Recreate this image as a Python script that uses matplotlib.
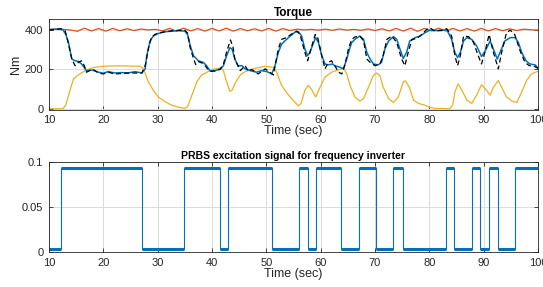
import numpy as np
import matplotlib
matplotlib.use("Agg")
import matplotlib.pyplot as plt

plt.rcParams['font.family'] = ['Liberation Sans', 'DejaVu Sans']

"DATA"
# measured torque (blue)
t_meas = [10, 11, 12, 12.6, 13.1, 13.6, 14.2, 14.8, 15.4, 16.0, 16.9, 17.9, 19.1, 20.0, 20.9,
          22.1, 23.4, 24.6, 25.8, 27.1, 27.7, 28.0, 28.6, 29.2, 30.1, 31.4, 32.6, 33.8, 35.0,
          35.5, 36.0, 36.6, 37.5, 38.4, 39.0, 39.6, 40.6, 41.5, 42.1, 42.7, 43.3, 43.7, 44.2,
          44.8, 45.5, 46.1, 47.0, 48.2, 49.1, 50.1, 51.0, 51.6, 52.2, 52.8, 53.4, 54.4, 55.3,
          55.9, 56.5, 57.1, 57.6, 58.0, 58.7, 59.1, 59.6, 60.2, 60.8, 61.4, 62.2, 62.6, 63.6,
          64.2, 64.8, 65.4, 65.7, 66.3, 67.2, 67.9, 68.5, 69.1, 69.7, 70.6, 71.2, 71.8, 72.5,
          73.4, 74.0, 74.6, 75.2, 75.8, 76.4, 77.4, 78.3, 79.2, 80.1, 81.0, 82.3, 83.2, 84.1,
          84.7, 85.2, 85.7, 86.3, 86.9, 87.8, 88.7, 89.6, 90.3, 91.2, 91.8, 92.5, 93.0, 93.9,
          94.9, 95.8, 96.4, 97.0, 97.8, 98.5, 99.5, 100]
tq_meas = [402, 405, 406, 400, 378, 336, 253, 244, 241, 228, 194, 197, 186, 181, 189,
           182, 184, 182, 189, 182, 203, 270, 345, 370, 383, 392, 395, 397, 395,
           378, 320, 270, 244, 236, 219, 194, 194, 203, 219, 270, 311, 303, 253,
           219, 219, 203, 194, 186, 194, 189, 177, 219, 286, 328, 345, 370, 390,
           392, 370, 303, 270, 286, 336, 362, 336, 270, 228, 223, 228, 219, 211,
           203, 253, 311, 336, 353, 370, 353, 286, 253, 228, 223, 236, 303, 345,
           367, 353, 303, 256, 286, 345, 362, 370, 387, 400, 398, 398, 403, 353,
           286, 261, 286, 345, 362, 353, 320, 266, 295, 345, 303, 253, 286, 345,
           362, 362, 336, 286, 244, 228, 223, 206]

# reference torque (black dashed)
t_ref = [10, 12.3, 13.0, 13.6, 14.2, 14.8, 15.4, 16.0, 16.5, 16.9, 17.5, 18.2, 19.1, 20.0,
         20.9, 22.1, 24.6, 27.1, 27.7, 28.4, 28.9, 29.5, 30.1, 31.4, 33.0, 35.0, 35.5, 36.0,
         36.6, 37.0, 37.5, 38.4, 39.0, 39.6, 40.6, 41.5, 42.1, 42.7, 43.4, 43.9, 44.2, 45.2,
         46.1, 46.7, 47.3, 48.5, 49.8, 51.3, 52.2, 52.8, 53.7, 55.0, 55.6, 56.2, 57.1, 57.6,
         58.2, 59.0, 59.4, 60.2, 60.8, 61.4, 62.0, 62.6, 63.3, 63.9, 64.5, 65.1, 65.7, 66.3,
         67.2, 67.9, 68.5, 69.1, 70.0, 70.9, 71.5, 72.2, 73.1, 74.0, 74.9, 75.5, 76.1, 76.8,
         77.7, 78.6, 79.5, 80.1, 81.0, 82.3, 82.9, 83.2, 84.1, 84.7, 85.2, 85.7, 86.3, 87.2,
         88.1, 89.0, 89.6, 90.3, 91.0, 91.8, 92.7, 93.3, 94.2, 94.9, 95.7, 96.7, 97.6, 98.4,
         99.1, 100]
tq_ref = [400, 407, 395, 328, 253, 219, 236, 244, 219, 186, 194, 199, 182, 177,
          186, 177, 182, 182, 219, 320, 365, 378, 385, 392, 398, 400, 385, 310,
          255, 225, 240, 230, 210, 190, 192, 200, 225, 290, 350, 310, 253, 194,
          219, 190, 200, 177, 203, 172, 303, 353, 362, 387, 395, 378, 286, 244,
          303, 378, 370, 270, 203, 236, 244, 219, 186, 177, 228, 303, 353, 365,
          370, 345, 253, 236, 219, 228, 270, 353, 370, 337, 253, 219, 286, 353,
          357, 378, 403, 412, 395, 400, 407, 407, 370, 270, 219, 270, 370, 367,
          340, 270, 228, 295, 378, 286, 203, 286, 387, 400, 378, 295, 236, 219,
          219, 206]

# load torque (red), evenly spaced over 10..100 s
tq_load = [404, 405, 404, 401, 394, 410, 396, 408, 395, 409,
           397, 407, 398, 406, 401, 404, 396, 409, 395, 410,
           396, 408, 395, 409, 396, 410, 395, 408, 397, 407,
           396, 409, 395, 408, 398, 405, 401, 404, 400, 405,
           399, 406, 400, 404, 399, 406, 398, 407, 396, 409,
           395, 410, 394, 409, 396, 410, 395, 409, 396, 408,
           395, 409, 396, 408, 397, 407, 398, 405, 402, 400]

# torque difference (yellow)
t_diff = [10, 12.6, 13.1, 13.6, 14.5, 15.4, 16.9, 18.4, 20.0, 21.5, 24.0, 26.8, 27.4, 28.3,
          29.2, 30.1, 31.4, 32.6, 33.8, 35.0, 35.5, 36.3, 37.2, 38.1, 39.3, 40.6, 41.7, 42.1,
          42.7, 43.3, 43.7, 44.2, 45.2, 46.1, 47.9, 49.8, 51.3, 51.9, 52.8, 54.1, 55.3, 55.9,
          56.4, 57.1, 57.7, 58.3, 59.1, 59.9, 60.8, 62.0, 63.3, 64.2, 64.8, 65.4, 66.3, 67.2,
          67.9, 68.8, 69.7, 70.3, 70.9, 71.5, 72.5, 73.4, 74.3, 75.2, 75.6, 76.3, 77.1, 78.0,
          79.2, 80.1, 81.0, 83.8, 84.3, 84.7, 85.3, 86.0, 86.9, 87.8, 88.7, 89.6, 90.3, 91.2,
          91.8, 92.7, 93.3, 94.2, 95.2, 96.1, 97.0, 97.9, 98.8, 99.8, 100]
tq_diff = [0, 0, 20, 69, 152, 172, 198, 211, 216, 218, 218, 216, 203, 136,
           94, 60, 35, 18, 8, 2, 10, 69, 136, 172, 189, 203, 208, 194,
           136, 89, 94, 127, 172, 189, 206, 216, 211, 186, 119, 69, 32, 15,
           27, 94, 119, 99, 60, 110, 161, 186, 198, 208, 177, 119, 60, 39,
           52, 110, 169, 182, 169, 110, 52, 32, 60, 136, 142, 110, 44, 27,
           18, 7, 2, 0, 18, 85, 127, 94, 44, 27, 69, 122, 102, 69,
           110, 144, 110, 60, 39, 32, 85, 144, 177, 189, 191]

# PRBS switching instants and levels
prbs_edges = [10, 12.3, 27.1, 34.9, 41.4, 42.9, 51.0, 56.0, 57.6, 59.2, 63.8, 67.1, 70.1,
              73.4, 75.1, 83.0, 84.6, 87.9, 89.3, 90.9, 92.6, 95.8, 100]
prbs_level = [0.003, 0.093, 0.003, 0.093, 0.003, 0.093, 0.003, 0.093, 0.003, 0.093, 0.003,
              0.093, 0.003, 0.093, 0.003, 0.093, 0.003, 0.093, 0.003, 0.093, 0.003, 0.093]

"PLOTS"
blue, red, yellow = "#0072BD", "#D95319", "#EDB120"
txt = "#262626"

fig = plt.figure(figsize=(5.43, 2.87), dpi=100)
ax1 = fig.add_axes([0.0902, 0.617, 0.9006, 0.317])
ax2 = fig.add_axes([0.0902, 0.122, 0.9006, 0.314])

t_load = np.linspace(10, 100, len(tq_load))
ax1.plot(t_load, tq_load, color=red, lw=0.9)
ax1.plot(t_diff, tq_diff, color=yellow, lw=0.9)
ax1.plot(t_meas, tq_meas, color=blue, lw=1.1)
ax1.plot(t_ref, tq_ref, color="k", lw=0.9, ls=(0, (4, 2.5)))
ax1.set_ylim(-6, 457)
ax1.set_yticks([0, 200, 400])
ax1.set_ylabel("Nm", fontsize=9, color=txt, labelpad=2)
ax1.set_title("Torque", fontsize=8.5, fontweight="bold", pad=2)

ax2.hlines(prbs_level, prbs_edges[:-1], prbs_edges[1:], color=blue, lw=2.2)
ax2.stairs(prbs_level, prbs_edges, color=blue, lw=0.8, baseline=None)
ax2.set_ylim(0, 0.1)
ax2.set_yticks([0, 0.05, 0.1])
ax2.set_yticklabels(["0", "0.05", "0.1"])
ax2.set_title("PRBS excitation signal for frequency inverter", fontsize=7.5,
              fontweight="bold", pad=2)

for ax in (ax1, ax2):
    ax.set_xlim(10, 100)
    ax.set_xticks(np.arange(10, 101, 10))
    ax.set_xlabel("Time (sec)", fontsize=9, color=txt, labelpad=0)
    ax.grid(True, color="#dcdcdc", lw=0.7)
    ax.set_axisbelow(True)
    ax.tick_params(direction="in", top=True, right=True, labelsize=8,
                   colors=txt, length=3, width=0.6)
    ax.tick_params(axis="x", pad=4)
    ax.tick_params(axis="y", pad=4)
    for s in ax.spines.values():
        s.set_color(txt)
        s.set_linewidth(0.6)

fig.savefig("out.png", dpi=100)
